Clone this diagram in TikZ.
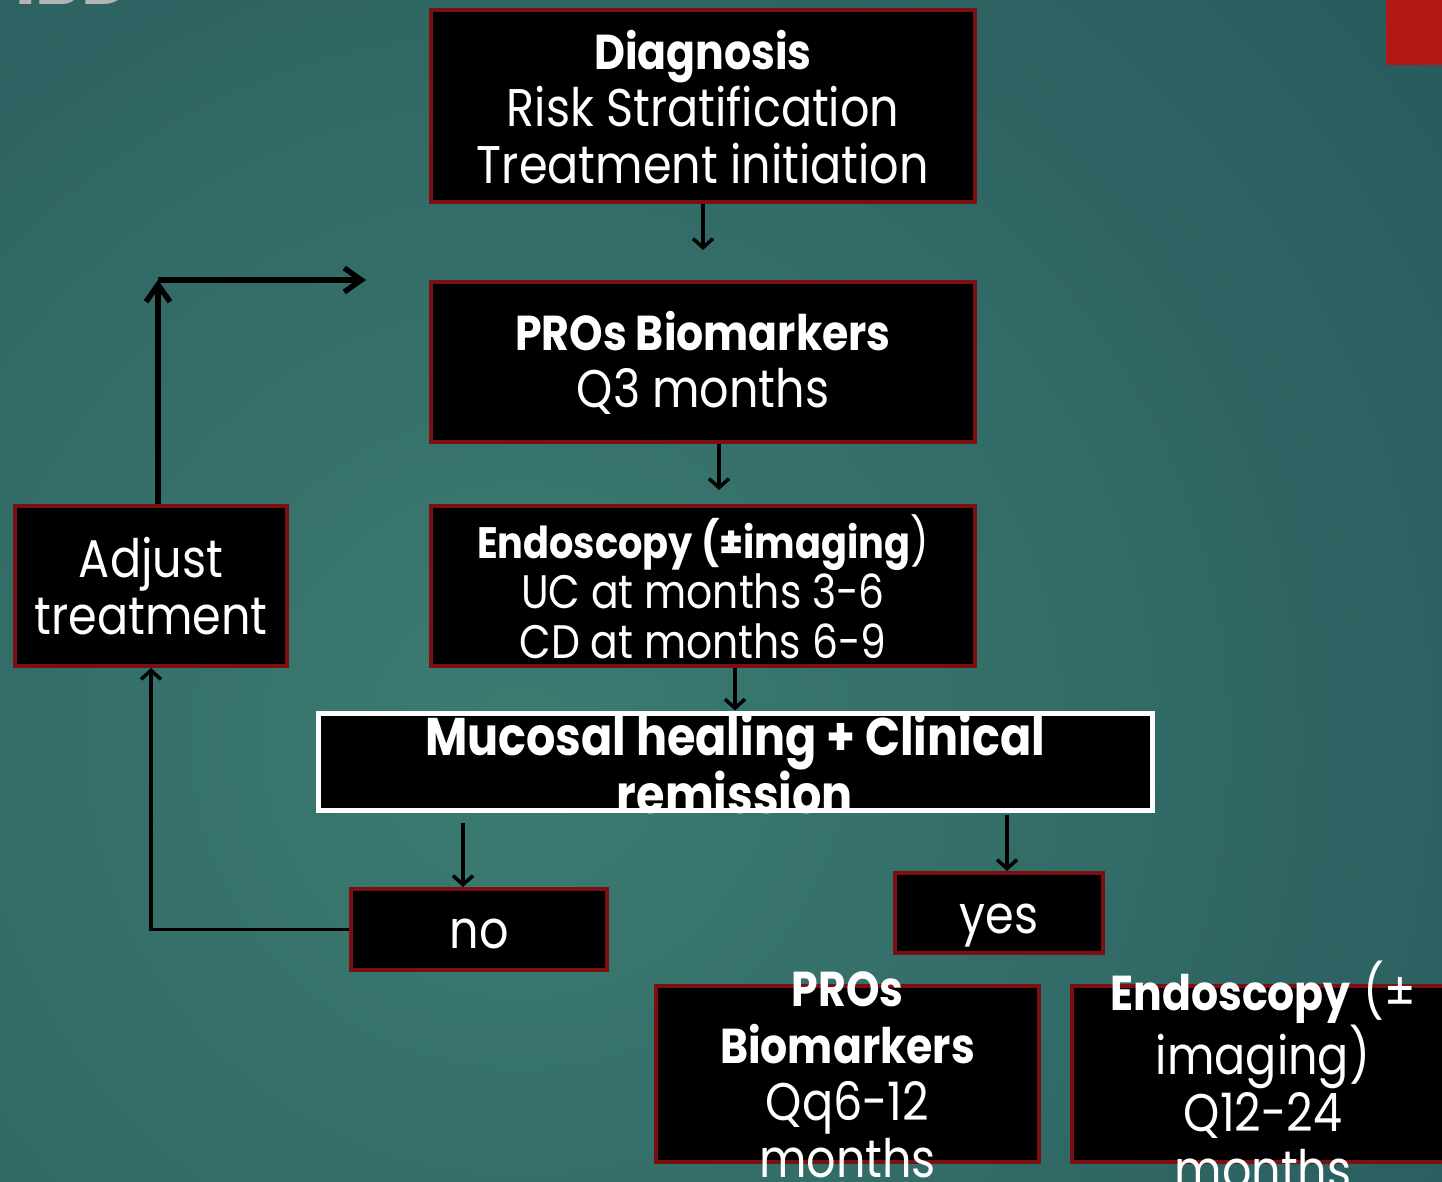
\documentclass[tikz,border=0pt]{standalone}
\usepackage{fontspec}
\setmainfont{Poppins}[FakeStretch=0.87]
\usetikzlibrary{arrows.meta,calc}
\definecolor{bgmid}{HTML}{3C7C71}
\definecolor{bgdark}{HTML}{1B4550}
\definecolor{boxred}{HTML}{7A1012}
\definecolor{cornerred}{HTML}{B31815}
\definecolor{titlegray}{HTML}{B4B4B4}
% bold heading words, set a little smaller than the body text
\newcommand{\bt}[1]{{\fontsize{49}{57}\selectfont\bfseries #1}}
\begin{document}
\begin{tikzpicture}[x=1pt,y=-1pt,
  box/.style={draw=boxred,line width=4pt,fill=black,rectangle,inner sep=0pt},
  txt/.style={text=white,align=center,inner sep=0pt,font=\fontsize{53}{57}\selectfont},
  link/.style={line width=3.5pt,-{Straight Barb[length=9pt,width=20pt]}},
  loop/.style={line width=5.5pt,-{Straight Barb[length=17pt,width=24pt]}}]
\clip (0,0) rectangle (1442,1181);
% background
\shade[inner color=bgmid,outer color=bgdark] (520,740) circle (1900);
\fill[cornerred] (1386,0) rectangle (1442,65);
\node[anchor=base west,inner sep=0pt,text=titlegray,font=\fontsize{80}{84}\selectfont\bfseries] (ttl) at (15,4) {IBD};

% boxes
\node[box,minimum width=544pt,minimum height=192pt] (diag) at (703,106) {};
\node[box,minimum width=544pt,minimum height=160pt] (pro) at (703,362) {};
\node[box,minimum width=544pt,minimum height=160pt] (endo) at (703,586) {};
\node[box,draw=white,line width=5pt,minimum width=834pt,minimum height=97pt] (muc) at (735,761.5) {};
\node[box,minimum width=256pt,minimum height=81pt] (no) at (479,929.5) {};
\node[box,minimum width=208pt,minimum height=80pt] (yes) at (999,913) {};
\node[box,minimum width=272pt,minimum height=160pt] (adj) at (151,586) {};
\node[box,minimum width=383pt,minimum height=176pt] (pro2) at (847.5,1074) {};
\node[box,minimum width=382pt,minimum height=176pt] (endo2) at (1263,1074) {};

% texts
\node[txt] (tdiag) at (703,107) {\bt{Diagnosis}\\Risk Stratification\\Treatment initiation};
\node[txt] (tpro) at (703,363) {\bt{PROs Biomarkers}\\Q3 months};
\node[txt,font=\fontsize{47}{50}\selectfont] (tendo) at (703,587) {{\fontsize{44}{50}\selectfont\bfseries Endoscopy (±imaging})\\UC at months 3-6\\CD at months 6-9};
\node[txt,font=\fontsize{53}{57}\selectfont\bfseries] (tmuc) at (735,763) {Mucosal healing + Clinical\\remission};
\node[txt,anchor=base] (tno) at (479,948) {no};
\node[txt,anchor=base] (tyes) at (999,933) {yes};
\node[txt] (tadj) at (151,586) {Adjust\\treatment};
\node[txt] (tpro2) at (847.5,1075) {\bt{PROs}\\\bt{Biomarkers}\\Qq6-12\\months};
\node[txt] (tendo2) at (1263,1075) {\bt{Endoscopy} (±\\imaging)\\Q12-24\\months};

% connectors
\coordinate (d1) at ($(diag.south)+(0,46)$);
\draw[link] (diag.south) -- (d1);
\coordinate (p0) at ($(pro.south)+(16,0)$);
\coordinate (p1) at ($(p0)+(0,46)$);
\draw[link] (p0) -- (p1);
\draw[link] ([xshift=32pt]endo.south) -- (muc.north);
\coordinate (n0) at ($(no.north)+(-16,-64)$);
\draw[link] (n0) -- ([xshift=-16pt]no.north);
\draw[link] ([xshift=8pt,yshift=-2pt]yes.north |- muc.south) -- ([xshift=8pt]yes.north);
\draw[link] (no.west) -| (adj.south);
\coordinate (c1) at ($(adj.north)+(7,-224)$);
\coordinate (c2) at ($(c1)+(208,0)$);
\draw[loop] ([xshift=7pt]adj.north) -- (c1);
\draw[loop] (c1) -- (c2);
\end{tikzpicture}
\end{document}
